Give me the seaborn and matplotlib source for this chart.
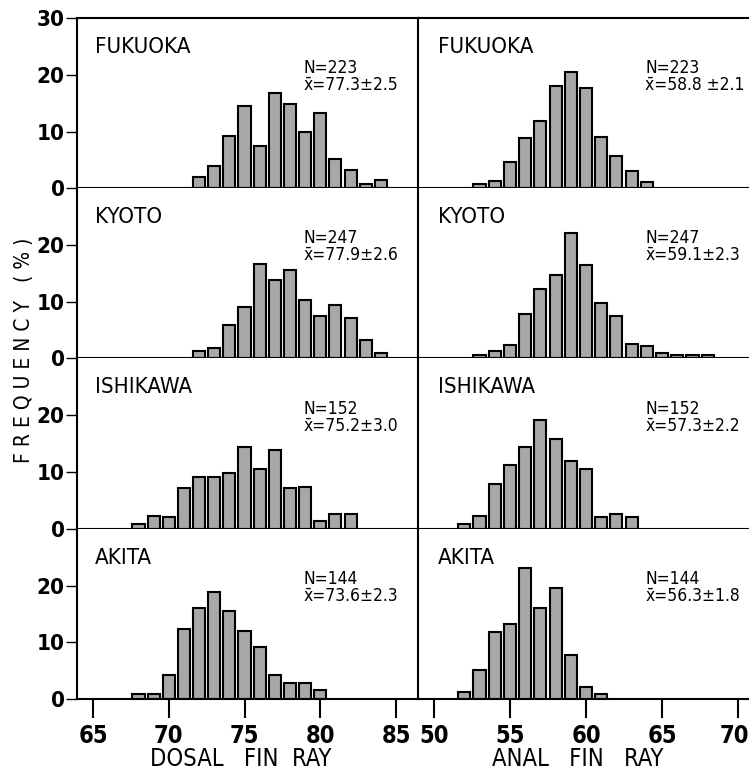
import matplotlib
matplotlib.use('Agg')
import matplotlib.pyplot as plt
from matplotlib import font_manager as fm
from matplotlib.transforms import ScaledTranslation
import seaborn as sns
import pandas as pd

# Frequency (%) of fin ray counts per locality
sites = ['FUKUOKA', 'KYOTO', 'ISHIKAWA', 'AKITA']
n_fish = [223, 247, 152, 144]
dorsal_stats = ['77.3\u00b12.5', '77.9\u00b12.6', '75.2\u00b13.0', '73.6\u00b12.3']
anal_stats = ['58.8 \u00b12.1', '59.1\u00b12.3', '57.3\u00b12.2', '56.3\u00b11.8']

fukuoka_dorsal_rays = [72, 73, 74, 75, 76, 77, 78, 79, 80, 81, 82, 83, 84]
fukuoka_dorsal_pct = [1.9, 3.9, 9.2, 14.5, 7.4, 16.8, 14.9, 9.9, 13.2, 5.2, 3.2, 0.8, 1.5]
kyoto_dorsal_rays = [72, 73, 74, 75, 76, 77, 78, 79, 80, 81, 82, 83, 84]
kyoto_dorsal_pct = [1.3, 1.8, 5.9, 9.1, 16.6, 13.9, 15.6, 10.3, 7.5, 9.4, 7.2, 3.2, 0.9]
ishikawa_dorsal_rays = [68, 69, 70, 71, 72, 73, 74, 75, 76, 77, 78, 79, 80, 81, 82]
ishikawa_dorsal_pct = [0.8, 2.2, 2.1, 7.2, 9.2, 9.1, 9.9, 14.4, 10.5, 13.9, 7.2, 7.3, 1.4, 2.6, 2.6]
akita_dorsal_rays = [68, 69, 70, 71, 72, 73, 74, 75, 76, 77, 78, 79, 80]
akita_dorsal_pct = [0.9, 0.9, 4.2, 12.4, 16.1, 18.8, 15.5, 12.0, 9.1, 4.2, 2.8, 2.9, 1.5]

fukuoka_anal_rays = [53, 54, 55, 56, 57, 58, 59, 60, 61, 62, 63, 64]
fukuoka_anal_pct = [0.8, 1.3, 4.6, 8.8, 11.9, 18.1, 20.5, 17.6, 9.1, 5.7, 3.1, 1.1]
kyoto_anal_rays = [53, 54, 55, 56, 57, 58, 59, 60, 61, 62, 63, 64, 65, 66, 67, 68]
kyoto_anal_pct = [0.7, 1.3, 2.4, 7.9, 12.3, 14.7, 22.1, 16.4, 9.7, 7.5, 2.6, 2.2, 0.9, 0.6, 0.6, 0.6]
ishikawa_anal_rays = [52, 53, 54, 55, 56, 57, 58, 59, 60, 61, 62, 63]
ishikawa_anal_pct = [0.8, 2.2, 7.8, 11.2, 14.4, 19.1, 15.8, 11.9, 10.6, 2.1, 2.6, 2.1]
akita_anal_rays = [52, 53, 54, 55, 56, 57, 58, 59, 60, 61]
akita_anal_pct = [1.3, 5.1, 11.8, 13.3, 23.0, 16.0, 19.5, 7.7, 2.2, 0.9]

dorsal_data = [(fukuoka_dorsal_rays, fukuoka_dorsal_pct), (kyoto_dorsal_rays, kyoto_dorsal_pct),
               (ishikawa_dorsal_rays, ishikawa_dorsal_pct), (akita_dorsal_rays, akita_dorsal_pct)]
anal_data = [(fukuoka_anal_rays, fukuoka_anal_pct), (kyoto_anal_rays, kyoto_anal_pct),
             (ishikawa_anal_rays, ishikawa_anal_pct), (akita_anal_rays, akita_anal_pct)]

sns.set_style('ticks')
plt.rcParams['font.family'] = ['DejaVu Sans']
plt.rcParams['text.color'] = 'black'
plt.rcParams['xtick.color'] = 'black'
plt.rcParams['ytick.color'] = 'black'


# the original uses a narrow typeface; look for a condensed font file
def narrow_font(bold):
    cands = [f for f in fm.fontManager.ttflist
             if ('Narrow' in f.name or 'Condensed' in f.name or 'ondensed' in str(f.stretch)
                 or 'Condensed' in f.fname or 'Narrow' in f.fname)
             and 'Oblique' not in f.fname and 'Italic' not in f.fname]
    heavy = lambda f: f.weight in ('bold', 700) or 'Bold' in f.fname
    cands = [f for f in cands if heavy(f) == bold] or cands
    if cands:
        cands.sort(key=lambda f: (0 if 'DejaVu' in f.fname else 1, f.fname))
        return cands[0].fname
    return None


path_b = narrow_font(True)
path_r = narrow_font(False)


def fp(size, bold=False):
    p = path_b if bold else path_r
    if p:
        return fm.FontProperties(fname=p, size=size)
    return fm.FontProperties(family='DejaVu Sans', size=size * 0.85,
                             weight='bold' if bold else 'normal')


W, H = 749, 774
fig = plt.figure(figsize=(W / 100, H / 100), dpi=100)

top_px, panel_px = 18, 170.25
cols = [
    dict(x0=77, x1=418, xlim=(63.94, 86.45), ticks=[65, 70, 75, 80, 85], data=dorsal_data,
         stats=dorsal_stats, name_x=0.053, stat_x=0.665, xlabel='DOSAL   FIN  RAY', xlabel_px=241),
    dict(x0=418, x1=749, xlim=(48.95, 70.72), ticks=[50, 55, 60, 65, 70], data=anal_data,
         stats=anal_stats, name_x=0.06, stat_x=0.687, xlabel='ANAL   FIN   RAY', xlabel_px=578),
]

for c, col in enumerate(cols):
    for r in range(4):
        y_top = top_px + r * panel_px
        ax = fig.add_axes([col['x0'] / W, 1 - (y_top + panel_px) / H,
                           (col['x1'] - col['x0']) / W, panel_px / H])
        rays, pct = col['data'][r]
        df = pd.DataFrame({'rays': rays, 'pct': pct})
        sns.barplot(data=df, x='rays', y='pct', native_scale=True, orient='x',
                    color='#a8a8a8', saturation=1, width=0.8, edgecolor='black',
                    linewidth=1.5, errorbar=None, ax=ax)
        ax.set_xlim(*col['xlim'])
        ax.set_ylim(0, 30)
        ax.set_xlabel('')
        ax.set_ylabel('')
        for s in ax.spines.values():
            s.set_linewidth(1.5)
            s.set_color('black')
        ax.spines['right'].set_visible(False)
        ax.spines['top'].set_visible(r == 0)

        if c == 0:
            ax.set_yticks([0, 10, 20, 30] if r == 0 else [0, 10, 20])
            ax.tick_params(axis='y', length=8, width=1, pad=1)
            for lab in ax.get_yticklabels():
                lab.set_fontproperties(fp(16, bold=True))
        else:
            ax.set_yticks([])

        if r == 3:
            ax.set_xticks(col['ticks'])
            ax.tick_params(axis='x', length=14, width=1.5, pad=4)
            labs = ax.get_xticklabels()
            for lab in labs:
                lab.set_fontproperties(fp(17, bold=True))
            if c == 1:
                # last label sits on the figure edge; nudge it in a little
                labs[-1].set_transform(labs[-1].get_transform()
                                       + ScaledTranslation(-0.04, 0, fig.dpi_scale_trans))
        else:
            ax.set_xticks([])

        ax.text(col['name_x'], 0.83, sites[r], transform=ax.transAxes,
                fontproperties=fp(16), va='center', ha='left')
        ax.text(col['stat_x'], 0.706, 'N=' + str(n_fish[r]), transform=ax.transAxes,
                fontproperties=fp(12.5), va='center', ha='left')
        ax.text(col['stat_x'], 0.606, 'x\u0304=' + col['stats'][r], transform=ax.transAxes,
                fontproperties=fp(12.5), va='center', ha='left')

    fig.text(col['xlabel_px'] / W, 1 - 759 / H, col['xlabel'], fontproperties=fp(17),
             ha='center', va='center')

fig.text(24 / W, 1 - 350 / H, 'F R E Q U E N C Y   ( % )', rotation=90,
         fontproperties=fp(15), ha='center', va='center')

fig.savefig('out.png', dpi=100, facecolor='white')
